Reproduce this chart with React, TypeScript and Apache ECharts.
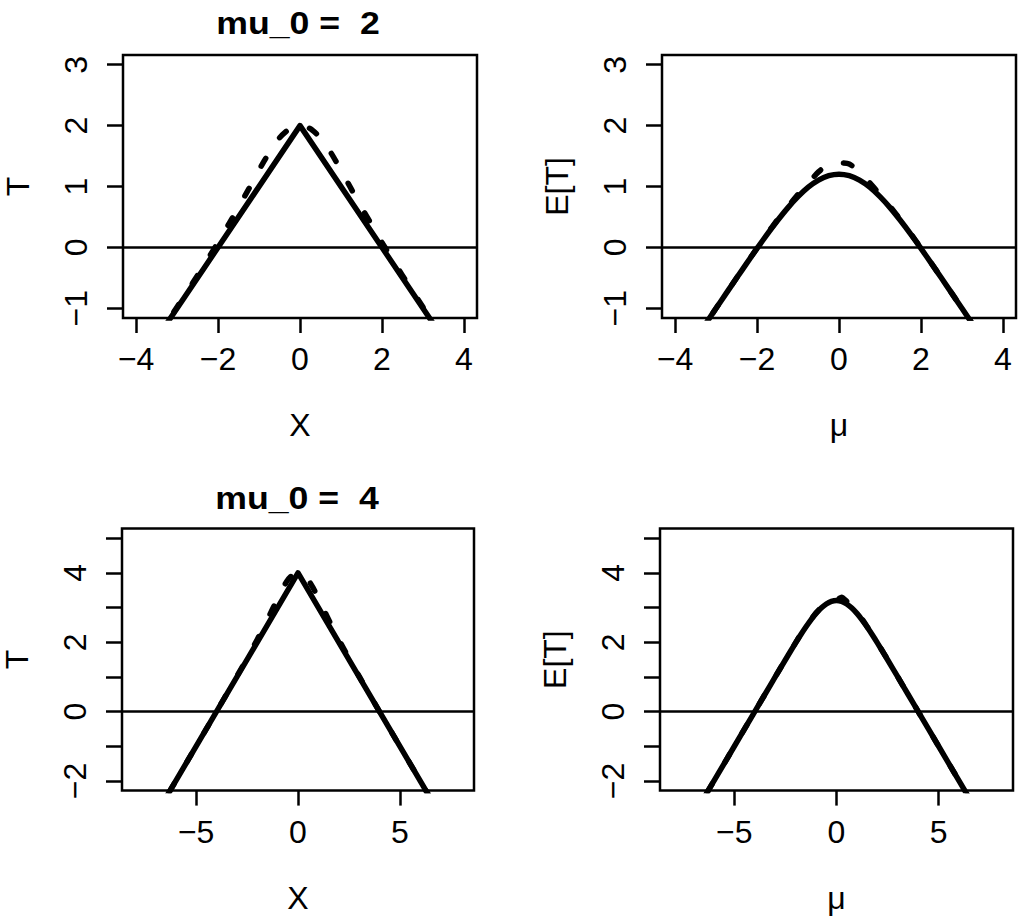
import React, { useEffect, useRef } from "react";
import * as echarts from "echarts";

// ---------- tick values ----------
const topXTicks = [-4, -2, 0, 2, 4];
const topYTicks = [-1, 0, 1, 2, 3];
const botXTicks = [-5, 0, 5];
const botYTicks = [-2, -1, 0, 1, 2, 3, 4, 5];
const botYLabels = [-2, 0, 2, 4];

// ---------- panel titles / axis names ----------
const titles = ["mu_0 =  2", "mu_0 =  4"];
const xNames = ["X", "\u03bc", "X", "\u03bc"];
const yNames = ["T", "E[T]", "T", "E[T]"];

// ---------- panel 1 : T vs X, mu_0 = 2 ----------
const p1SolidX = [-4, 0, 4];
const p1SolidY = [-2, 2, -2];
const topGrid = [-4, -3.5, -3, -2.75, -2.5, -2.25, -2, -1.75, -1.5, -1.25, -1, -0.75, -0.5, -0.25, 0,
  0.25, 0.5, 0.75, 1, 1.25, 1.5, 1.75, 2, 2.25, 2.5, 2.75, 3, 3.5, 4];
const p1DashY = [-1.99, -1.49, -0.98, -0.72, -0.46, -0.19, 0.08, 0.37, 0.66, 0.96, 1.27, 1.56, 1.8, 1.95, 2.0,
  1.95, 1.8, 1.56, 1.27, 0.96, 0.66, 0.37, 0.08, -0.19, -0.46, -0.72, -0.98, -1.49, -1.99];

// ---------- panel 2 : E[T] vs mu, mu_0 = 2 ----------
const p2SolidY = [-2.0, -1.5, -1.001, -0.752, -0.504, -0.259, -0.017, 0.218, 0.441, 0.649, 0.833, 0.988, 1.104, 1.177, 1.202,
  1.177, 1.104, 0.988, 0.833, 0.649, 0.441, 0.218, -0.017, -0.259, -0.504, -0.752, -1.001, -1.5, -2.0];
const p2DashY = [-2.0, -1.5, -1.0, -0.751, -0.502, -0.255, -0.01, 0.228, 0.455, 0.67, 0.87, 1.06, 1.24, 1.37, 1.39,
  1.37, 1.24, 1.06, 0.87, 0.67, 0.455, 0.228, -0.01, -0.255, -0.502, -0.751, -1.0, -1.5, -2.0];

// ---------- panel 3 : T vs X, mu_0 = 4 ----------
const p3SolidX = [-8, 0, 8];
const p3SolidY = [-4, 4, -4];
const botGrid = [-8, -7, -6, -5, -4, -3.5, -3, -2.5, -2, -1.75, -1.5, -1.25, -1, -0.75, -0.5, -0.25, 0,
  0.25, 0.5, 0.75, 1, 1.25, 1.5, 1.75, 2, 2.5, 3, 3.5, 4, 5, 6, 7, 8];
const p3DashY = [-4, -3, -2, -1, 0.0, 0.51, 1.02, 1.54, 2.08, 2.37, 2.66, 2.96, 3.27, 3.56, 3.8, 3.95, 4.0,
  3.95, 3.8, 3.56, 3.27, 2.96, 2.66, 2.37, 2.08, 1.54, 1.02, 0.51, 0.0, -1, -2, -3, -4];

// ---------- panel 4 : E[T] vs mu, mu_0 = 4 ----------
const p4SolidY = [-4, -3, -2, -1, 0.0, 0.5, 0.999, 1.496, 1.983, 2.218, 2.441, 2.649, 2.833, 2.988, 3.104, 3.177, 3.202,
  3.177, 3.104, 2.988, 2.833, 2.649, 2.441, 2.218, 1.983, 1.496, 0.999, 0.5, 0.0, -1, -2, -3, -4];
const p4DashY = [-4, -3, -2, -1, 0.0, 0.5, 1.0, 1.5, 1.99, 2.23, 2.45, 2.66, 2.85, 3.01, 3.17, 3.21, 3.22,
  3.3, 3.18, 3.02, 2.86, 2.67, 2.45, 2.23, 1.99, 1.5, 1.0, 0.5, 0.0, -1, -2, -3, -4];

const FONT = "Liberation Sans";

const zip = (xs: number[], ys: number[]) => xs.map((x, i) => [x, ys[i]]);
const fmt = (v: number) => (v < 0 ? "\u2212" + Math.abs(v) : String(v));

function xAxisCfg(gridIndex: number, min: number, max: number, ticks: number[], name: string) {
  return {
    type: "value", gridIndex, min, max,
    axisLine: { show: false, onZero: false },
    splitLine: { show: false },
    axisTick: { show: true, inside: false, length: 15, customValues: ticks, lineStyle: { color: "#000", width: 2.5 } },
    axisLabel: { customValues: ticks, formatter: fmt, color: "#000", fontFamily: FONT, fontSize: 32, margin: 25 },
    name, nameLocation: "middle", nameGap: 91,
    nameTextStyle: { color: "#000", fontFamily: FONT, fontSize: 32 },
  };
}
function yAxisCfg(gridIndex: number, min: number, max: number, ticks: number[], labels: number[], name: string) {
  return {
    type: "value", gridIndex, min, max,
    axisLine: { show: false, onZero: false },
    splitLine: { show: false },
    axisTick: { show: true, inside: false, length: 16, customValues: ticks, lineStyle: { color: "#000", width: 2.5 } },
    axisLabel: { customValues: labels, formatter: fmt, rotate: 90, color: "#000", fontFamily: FONT, fontSize: 32, margin: 31 },
    name, nameLocation: "middle", nameGap: 89,
    nameTextStyle: { color: "#000", fontFamily: FONT, fontSize: 32 },
  };
}

const zeroLine = {
  silent: true, symbol: "none", label: { show: false },
  lineStyle: { color: "#000", width: 2.5, type: "solid" },
  data: [{ yAxis: 0 }],
};

function solid(idx: number, data: number[][], smooth: number | boolean, withZero: boolean) {
  return {
    type: "line", xAxisIndex: idx, yAxisIndex: idx, data, smooth, showSymbol: false, symbol: "none",
    lineStyle: { color: "#000", width: 5.5, cap: "round", join: "round" },
    markLine: withZero ? zeroLine : undefined, z: 3,
  };
}
function dashed(idx: number, data: number[][]) {
  return {
    type: "line", xAxisIndex: idx, yAxisIndex: idx, data, smooth: 0.2, showSymbol: false, symbol: "none",
    lineStyle: { color: "#000", width: 5.5, type: [9, 25], cap: "round", join: "round" }, z: 2,
  };
}

function titleText(text: string, x: number, y: number) {
  return {
    type: "text", x, y, scaleX: 1.15,
    style: {
      text, fill: "#000", fontFamily: FONT, fontWeight: "bold", fontSize: 31,
      textAlign: "center", textVerticalAlign: "middle", align: "center", verticalAlign: "middle",
    },
  };
}

export default function App() {
  const ref = useRef<HTMLDivElement>(null);
  useEffect(() => {
    if (!ref.current) return;
    const chart = echarts.init(ref.current, undefined, { renderer: "svg" });
    const gridBase = { show: true, borderColor: "#000", borderWidth: 2.5, backgroundColor: "transparent", containLabel: false };
    chart.setOption({
      animation: false,
      backgroundColor: "#fff",
      grid: [
        { ...gridBase, left: 123, top: 55, width: 354, height: 263 },
        { ...gridBase, left: 662, top: 55, width: 354, height: 263 },
        { ...gridBase, left: 121, top: 528.6, width: 353, height: 262 },
        { ...gridBase, left: 660, top: 528.6, width: 353, height: 262 },
      ],
      xAxis: [
        xAxisCfg(0, -4.32, 4.32, topXTicks, xNames[0]),
        xAxisCfg(1, -4.32, 4.32, topXTicks, xNames[1]),
        xAxisCfg(2, -8.64, 8.64, botXTicks, xNames[2]),
        xAxisCfg(3, -8.64, 8.64, botXTicks, xNames[3]),
      ],
      yAxis: [
        yAxisCfg(0, -1.16, 3.16, topYTicks, topYTicks, yNames[0]),
        yAxisCfg(1, -1.16, 3.16, topYTicks, topYTicks, yNames[1]),
        yAxisCfg(2, -2.28, 5.28, botYTicks, botYLabels, yNames[2]),
        yAxisCfg(3, -2.28, 5.28, botYTicks, botYLabels, yNames[3]),
      ],
      graphic: [
        titleText(titles[0], 298, 23),
        titleText(titles[1], 297, 498),
      ],
      series: [
        dashed(0, zip(topGrid, p1DashY)),
        solid(0, zip(p1SolidX, p1SolidY), false, true),
        dashed(1, zip(topGrid, p2DashY)),
        solid(1, zip(topGrid, p2SolidY), 0.2, true),
        dashed(2, zip(botGrid, p3DashY)),
        solid(2, zip(p3SolidX, p3SolidY), false, true),
        dashed(3, zip(botGrid, p4DashY)),
        solid(3, zip(botGrid, p4SolidY), 0.2, true),
      ],
    });
    return () => chart.dispose();
  }, []);
  return <div ref={ref} style={{ position: "absolute", left: 0, top: 0, width: 1024, height: 917 }} />;
}
